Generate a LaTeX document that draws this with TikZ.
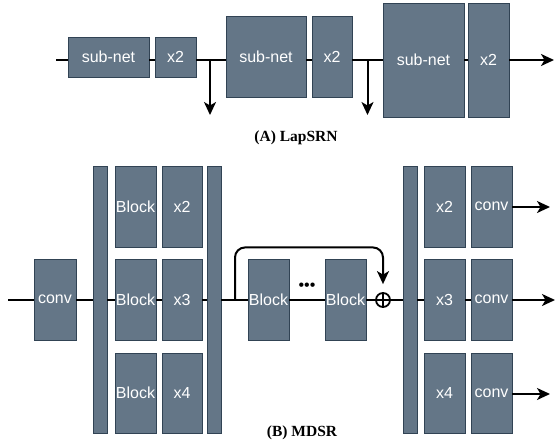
\documentclass[tikz,border=0pt]{standalone}
\usepackage{fontspec}
\setmainfont{Liberation Sans}
\newfontfamily\capfont{Liberation Serif}
\usetikzlibrary{arrows.meta}
\definecolor{boxfill}{HTML}{647687}
\definecolor{boxline}{HTML}{314354}
\tikzset{
  blk/.style={draw=boxline, fill=boxfill, line width=0.9pt, text=white, inner sep=0pt, font=\fontsize{16}{19}\selectfont},
  wire/.style={line width=2pt, draw=black},
  arr/.style={wire, -{Stealth[length=13pt,width=12pt,inset=3.5pt]}},
  captext/.style={font=\capfont\bfseries\fontsize{15.5}{18}\selectfont, inner sep=0pt},
}
\newcommand\MyBox[6]{\node[blk, minimum width={(#4-#2)*1pt}, minimum height={(#5-#3)*1pt}] (#1) at ({(#2+#4)/2},{(#3+#5)/2}) {#6};}
\begin{document}
\begin{tikzpicture}[x=1pt,y=-1pt]
\useasboundingbox (0,0) rectangle (555,447);
% ---------- (A) LapSRN ----------
\MyBox{sn1}{68}{37}{149}{77}{sub-net}
\MyBox{xa}{155}{37}{196}{77}{x2}
\MyBox{sn2}{226}{16}{306}{97}{sub-net}
\MyBox{xb}{312}{16}{352}{97}{x2}
\MyBox{sn3}{383}{3}{464}{117}{sub-net}
\MyBox{xc}{468}{3}{509}{117}{x2}
\coordinate (a0) at (56,60);
\coordinate (br1) at (210,60);
\coordinate (br1e) at (210,115);
\coordinate (br2) at (367.5,60);
\coordinate (br2e) at (367.5,115);
\coordinate (aend) at (554,60);
\draw[wire] (a0) -- (sn1.west |- a0);
\draw[wire] (sn1.east |- a0) -- (xa.west |- a0);
\draw[wire] (xa.east |- a0) -- (sn2.west |- a0);
\draw[wire] (sn2.east |- a0) -- (xb.west |- a0);
\draw[wire] (xb.east |- a0) -- (sn3.west |- a0);
\draw[wire] (sn3.east |- a0) -- (xc.west |- a0);
\draw[arr] (xc.east |- a0) -- (aend);
\draw[arr] (br1) -- (br1e);
\draw[arr] (br2) -- (br2e);
\node[captext] (capA) at (296,138) {(A) LapSRN};
% ---------- (B) MDSR ----------
\MyBox{cv}{34}{259}{76}{340}{conv}
\MyBox{bar1}{93}{166}{107}{433}{}
\MyBox{bk1}{115}{166}{156}{247}{Block}
\MyBox{bk2}{115}{259}{156}{340}{Block}
\MyBox{bk3}{115}{353}{156}{433}{Block}
\MyBox{s2}{162}{166}{202}{247}{x2}
\MyBox{s3}{162}{259}{202}{340}{x3}
\MyBox{s4}{162}{353}{202}{433}{x4}
\MyBox{bar2}{207}{166}{221}{433}{}
\MyBox{rb1}{248}{259}{289}{340}{Block}
\MyBox{rb2}{325}{259}{366}{340}{Block}
\MyBox{bar3}{403}{166}{417}{433}{}
\MyBox{u2}{424}{166}{465}{247}{x2}
\MyBox{u3}{424}{259}{465}{340}{x3}
\MyBox{u4}{424}{353}{465}{433}{x4}
\MyBox{c2}{471}{166}{512}{247}{conv}
\MyBox{c3}{471}{259}{512}{340}{conv}
\MyBox{c4}{471}{353}{512}{433}{conv}
\node[circle, draw=black, line width=1.8pt, minimum size=14pt, inner sep=0pt] (sum) at (383,300) {};
\draw[line width=1.8pt] (sum.north) -- (sum.south) (sum.west) -- (sum.east);
\node[inner sep=0pt, font=\fontsize{16}{19}\selectfont] (dots) at (307,287) {•••};
\coordinate (b0) at (8,300);
\coordinate (sk) at (235,300);
\coordinate (e2) at (550,207);
\coordinate (e3) at (555,300);
\coordinate (e4) at (550,394);
\draw[wire] (b0) -- (cv.west |- b0);
\draw[wire] (cv.east |- b0) -- (bar1.west |- b0);
\draw[wire] (bar1.east |- b0) -- (bk2.west |- b0);
\draw[wire] (bk2.east |- b0) -- (s3.west |- b0);
\draw[wire] (s3.east |- b0) -- (bar2.west |- b0);
\draw[wire] (bar2.east |- b0) -- (rb1.west |- b0);
\draw[wire] (rb1.east |- b0) -- (rb2.west |- b0);
\draw[wire] (rb2.east |- b0) -- (sum.west);
\draw[wire] (sum.east) -- (bar3.west |- b0);
\draw[wire] (bar3.east |- b0) -- (u3.west |- b0);
\draw[wire] (u3.east |- b0) -- (c3.west |- b0);
\draw[arr] (c3.east |- b0) -- (e3);
\draw[arr] (c2.east |- e2) -- (e2);
\draw[arr] (c4.east |- e4) -- (e4);
\draw[arr, rounded corners=10pt, shorten >=8pt] (sk) -- (sk |- bk1.south) -| (sum.north);
\node[captext] (capB) at (302,433) {(B) MDSR};
\end{tikzpicture}
\end{document}
